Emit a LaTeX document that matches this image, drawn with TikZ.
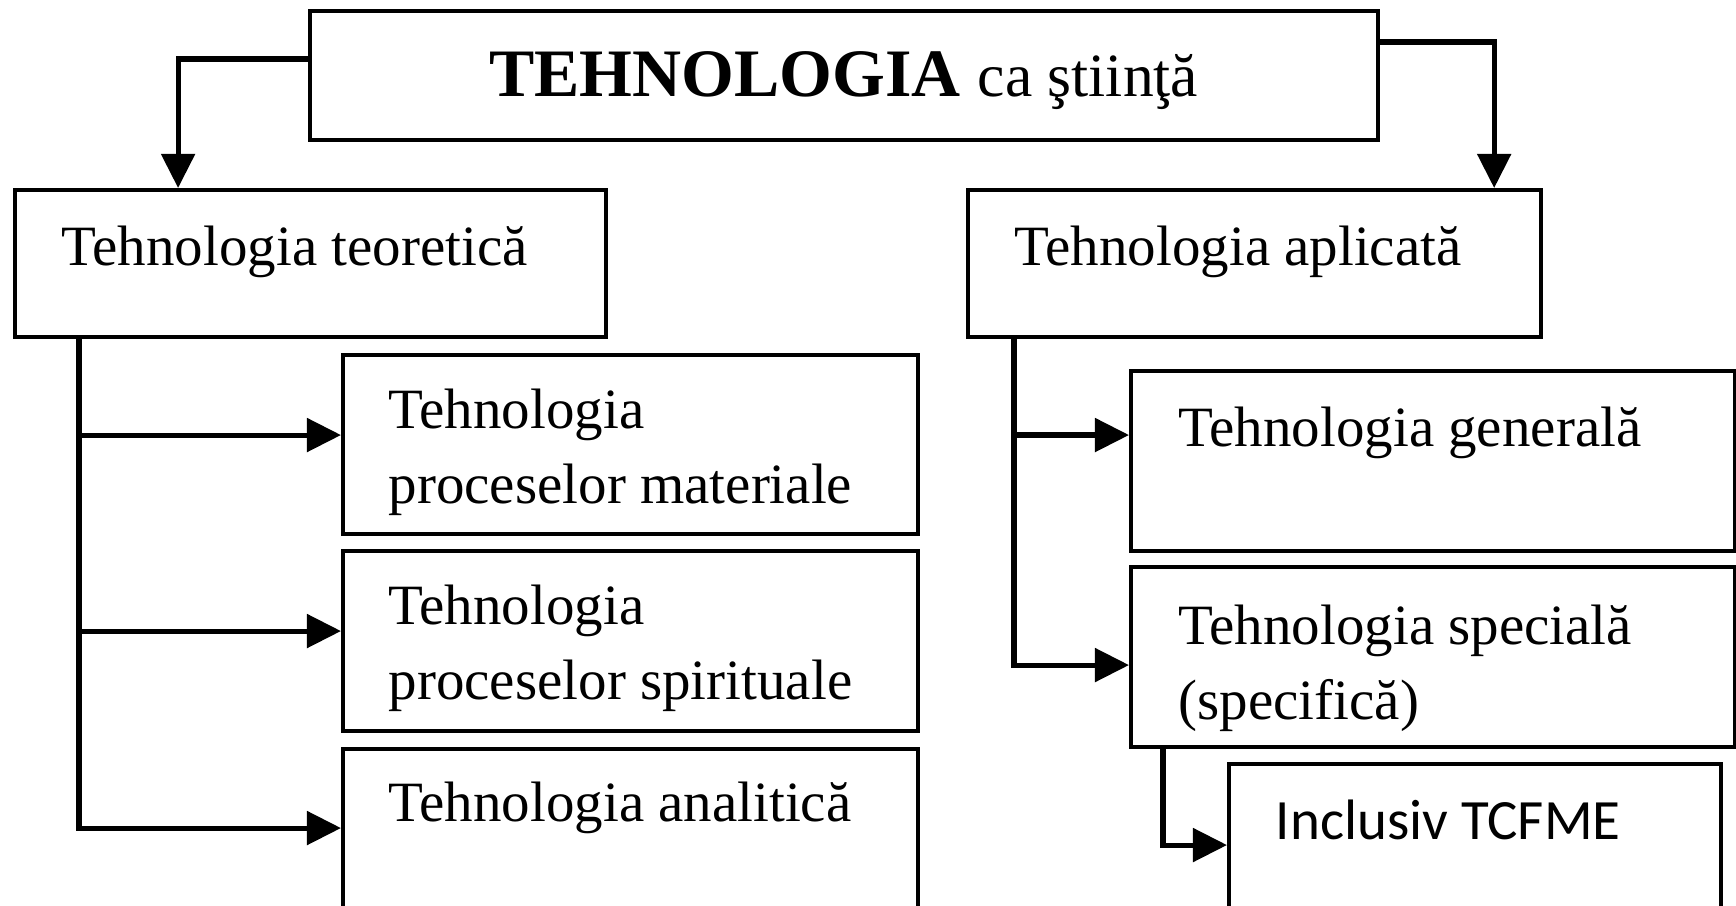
\documentclass[tikz,border=0pt]{standalone}
\usepackage{fontspec}
\setmainfont{Liberation Serif}
\newfontfamily\calibri{Carlito}
\usetikzlibrary{arrows.meta}
\tikzset{
  box/.style={draw, line width=1.1pt, anchor=north west, inner sep=0pt},
  txt/.style={anchor=base west, inner sep=0pt, align=left,
    font=\fontsize{16.2}{21.3}\selectfont},
  link/.style={line width=1.45pt, line cap=round},
  arr/.style={link, -{Triangle[length=0.34cm,width=0.33cm]}}
}

\begin{document}
\begin{tikzpicture}[x=0.01cm, y=-0.01cm]
  \useasboundingbox (0,0) rectangle (1736,906);
  \clip (0,0) rectangle (1736,906);
  % boxes
  \node[box, minimum width=10.67cm, minimum height=1.29cm] (main) at (308,9) {};
  \node[box, minimum width=5.91cm, minimum height=1.47cm] (teor) at (13,188) {};
  \node[box, minimum width=5.73cm, minimum height=1.47cm] (apl) at (966,188) {};
  \node[box, minimum width=5.75cm, minimum height=1.79cm] (mat) at (341,353) {};
  \node[box, minimum width=5.75cm, minimum height=1.80cm] (spir) at (341,549) {};
  \node[box, minimum width=5.75cm, minimum height=2.00cm] (anal) at (341,747) {};
  \node[box, minimum width=6.04cm, minimum height=1.80cm] (gen) at (1129,369) {};
  \node[box, minimum width=6.04cm, minimum height=1.80cm] (spec) at (1129,565) {};
  \node[box, minimum width=4.92cm, minimum height=2.00cm] (incl) at (1227,762) {};
  % labels (base = last line)
  \node[anchor=base, inner sep=0pt] (main-t) at ([yshift=-0.87cm]main.north)
    {\fontsize{19.3}{23}\selectfont\bfseries TEHNOLOGIA
     \fontsize{17.5}{21}\selectfont\mdseries ca ştiinţă};
  \node[txt] (teor-t) at ([xshift=0.48cm, yshift=-0.77cm]teor.north west) {Tehnologia teoretică};
  \node[txt] (apl-t) at ([xshift=0.48cm, yshift=-0.77cm]apl.north west) {Tehnologia aplicată};
  \node[txt] (mat-t) at ([xshift=0.47cm, yshift=-1.50cm]mat.north west) {Tehnologia\\proceselor materiale};
  \node[txt] (spir-t) at ([xshift=0.47cm, yshift=-1.50cm]spir.north west) {Tehnologia\\proceselor spirituale};
  \node[txt] (anal-t) at ([xshift=0.47cm, yshift=-0.74cm]anal.north west) {Tehnologia analitică};
  \node[txt] (gen-t) at ([xshift=0.49cm, yshift=-0.77cm]gen.north west) {Tehnologia generală};
  \node[txt] (spec-t) at ([xshift=0.49cm, yshift=-1.54cm]spec.north west) {Tehnologia specială\\(specifică)};
  \node[txt, font=\calibri\fontsize{16.2}{21.3}\selectfont] (incl-t)
    at ([xshift=0.48cm, yshift=-0.77cm]incl.north west) {Inclusiv TCFME};
  % entry points
  \coordinate (tl) at ([xshift=0.66cm]teor.south west);
  \coordinate (tr) at ([xshift=0.48cm]apl.south west);
  \coordinate (ts) at ([xshift=0.34cm]spec.south west);
  \coordinate (mat-in) at ([yshift=-0.82cm]mat.north west);
  \coordinate (spir-in) at ([yshift=-0.82cm]spir.north west);
  \coordinate (anal-in) at ([yshift=-0.81cm]anal.north west);
  \coordinate (gen-in) at ([yshift=-0.66cm]gen.north west);
  \coordinate (spec-in) at ([yshift=-1.00cm]spec.north west);
  \coordinate (incl-in) at ([yshift=-0.83cm]incl.north west);
  % top arrows
  \draw[arr] ([yshift=0.165cm]main.west) -| ([xshift=1.65cm]teor.north west);
  \draw[arr] ([yshift=0.335cm]main.east) -| ([xshift=-0.49cm]apl.north east);
  % left branch
  \draw[arr] (tl) |- (anal-in);
  \draw[arr] (tl |- mat-in) -- (mat-in);
  \draw[arr] (tl |- spir-in) -- (spir-in);
  % right branch
  \draw[arr] (tr) |- (spec-in);
  \draw[arr] (tr |- gen-in) -- (gen-in);
  \draw[arr] (ts) |- (incl-in);
\end{tikzpicture}
\end{document}
